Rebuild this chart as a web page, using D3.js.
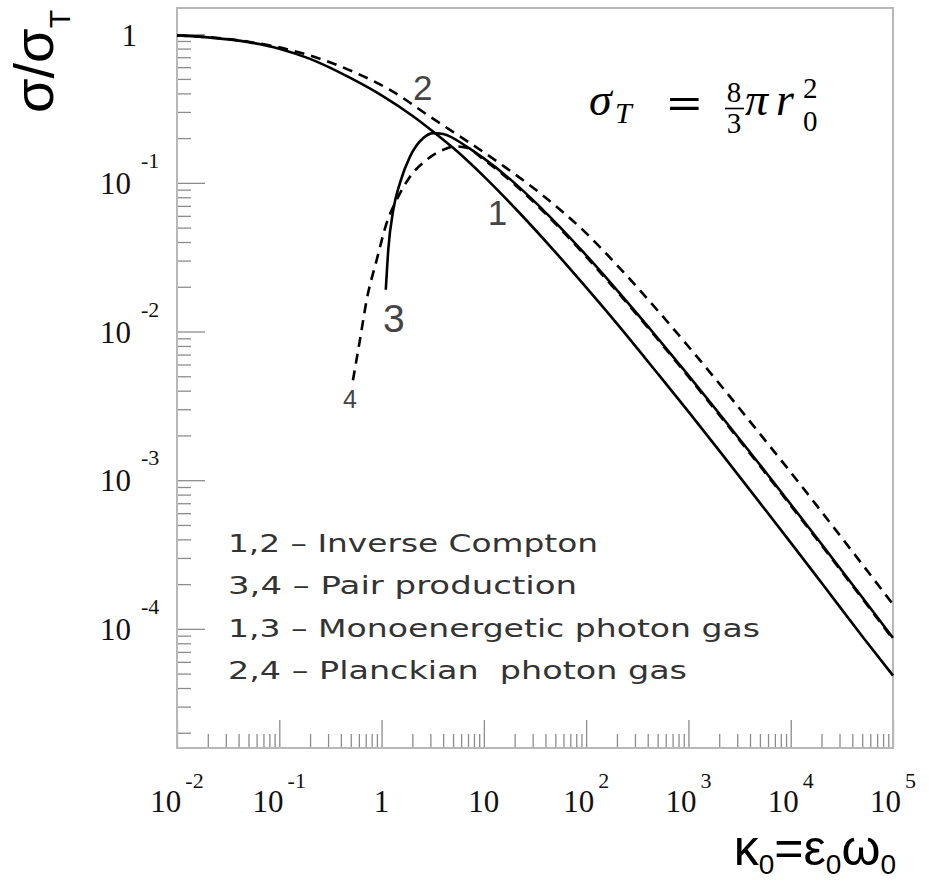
<!DOCTYPE html>
<html><head><meta charset="utf-8">
<script src="https://cdn.jsdelivr.net/npm/d3@7"></script>
<style>html,body{margin:0;padding:0;background:#fff;} svg{display:block;}</style>
</head><body>
<svg id="chart" width="929" height="881"></svg>
<script>
// ---------- data ----------
// curve 1 : inverse Compton, monoenergetic photon gas (solid)
const kappa1 = [0.01, 0.02, 0.05, 0.1, 0.2, 0.5, 1, 2, 3.2, 5, 10, 20, 50, 100, 200, 500, 1000, 2000, 5000, 1e4, 2e4, 5e4, 1e5];
const sigma1 = [0.982, 0.952, 0.884, 0.799, 0.682, 0.506, 0.388, 0.283, 0.221, 0.172, 0.1105, 0.068, 0.0342, 0.0198, 0.0113, 0.00522, 0.00289, 0.00158, 0.000704, 0.00038, 0.000204, 0.0000893, 0.0000485];
// curve 2 : inverse Compton, Planckian photon gas (dashed)
const kappa2 = [0.01, 0.02, 0.05, 0.1, 0.215, 0.525, 1.21, 2.97, 15.5, 35.4, 100, 200, 500, 1000, 2000, 5000, 1e4, 2e4, 5e4, 1e5];
const sigma2 = [0.982, 0.955, 0.89, 0.815, 0.707, 0.56, 0.422, 0.279, 0.13, 0.0853, 0.0459, 0.028, 0.01385, 0.00793, 0.00447, 0.00205, 0.00113, 0.000614, 0.000272, 0.000146];
// curve 3 : pair production, monoenergetic photon gas (solid)
const kappa3 = [1.10, 1.163, 1.302, 1.514, 1.896, 2.557, 3.2, 4.0, 6.79, 10, 20, 44.3, 100, 200, 500, 1000, 2000, 5000, 1e4, 2e4, 5e4, 1e5];
const sigma3 = [0.0191, 0.0355, 0.0658, 0.100, 0.150, 0.200, 0.216, 0.213, 0.1755, 0.146, 0.0996, 0.0591, 0.0326, 0.019, 0.00905, 0.00507, 0.00281, 0.00127, 0.000689, 0.000372, 0.000163, 0.000087];
// curve 4 : pair production, Planckian photon gas (dashed)
const kappa4 = [0.525, 0.615, 0.715, 0.896, 1.122, 1.405, 1.896, 2.76, 4.01, 5.2, 6.79, 10, 20, 44.3, 100, 200, 500, 1000, 2000, 5000, 1e4, 2e4, 5e4, 1e5];
const sigma4 = [0.0047, 0.0088, 0.0163, 0.0303, 0.0538, 0.0769, 0.110, 0.143, 0.167, 0.176, 0.172, 0.143, 0.0976, 0.0579, 0.0319, 0.0186, 0.00887, 0.00497, 0.00275, 0.001245, 0.000675, 0.000365, 0.00016, 0.0000853];

// tick labels
const xTickValues = [0.01, 0.1, 1, 10, 100, 1000, 10000, 100000];
const xTickBase = ["10", "10", "1", "10", "10", "10", "10", "10"];
const xTickExp = ["-2", "-1", "", "", "2", "3", "4", "5"];
const yTickValues = [1, 0.1, 0.01, 0.001, 0.0001];
const yTickBase = ["1", "10", "10", "10", "10"];
const yTickExp = ["", "-1", "-2", "-3", "-4"];

// curve labels and legend
const curveLabels = ["1", "2", "3", "4"];
const curveLabelAt = [[10.9, 0.0522], [2.03, 0.361], [1.03, 0.00995], [0.42, 0.00307]];
const legendLines = ["1,2 \u2013 Inverse Compton", "3,4 \u2013 Pair production", "1,3 \u2013 Monoenergetic photon gas", "2,4 \u2013 Planckian\u00a0 photon gas"];

// ---------- drawing ----------
const svg = d3.select("#chart");
const L = 177, R = 893, T = 8, B = 748;
const x = d3.scaleLog().domain([1e-2, 1e5]).range([L, R]);
const y = d3.scaleLog().domain([1.58e-5, 1.5]).range([B, T]);

const isDecade = v => Math.abs(Math.log10(v) - Math.round(Math.log10(v))) < 1e-6;
const xMinor = x.ticks().filter(v => !isDecade(v));
const yMinor = y.ticks().filter(v => !isDecade(v));
const tickColor = "#8c8c8c";

function styleAxis(g) {
  g.select(".domain").remove();
  g.selectAll(".tick line").attr("stroke", tickColor).attr("stroke-width", 1.3);
  g.selectAll(".tick text").remove();
}
svg.append("g").attr("transform", `translate(${L},0)`)
  .call(d3.axisRight(y).tickValues(yMinor).tickSize(14).tickFormat(() => "")).call(styleAxis);
svg.append("g").attr("transform", `translate(${L},0)`)
  .call(d3.axisRight(y).tickValues(yTickValues).tickSize(28).tickFormat(() => "")).call(styleAxis);
svg.append("g").attr("transform", `translate(0,${B})`)
  .call(d3.axisTop(x).tickValues(xMinor).tickSize(14).tickFormat(() => "")).call(styleAxis);
svg.append("g").attr("transform", `translate(0,${B})`)
  .call(d3.axisTop(x).tickValues(xTickValues).tickSize(28).tickFormat(() => "")).call(styleAxis);

svg.append("rect").attr("x", L).attr("y", T).attr("width", R - L).attr("height", B - T)
  .attr("fill", "none").attr("stroke", "#b8b8b8").attr("stroke-width", 2);

// curves
const line = d3.line().x(d => x(d[0])).y(d => y(d[1])).curve(d3.curveMonotoneX);
const curves = [
  {k: kappa1, s: sigma1, dash: null},
  {k: kappa2, s: sigma2, dash: "10,7"},
  {k: kappa3, s: sigma3, dash: null},
  {k: kappa4, s: sigma4, dash: "10,7"}
];
curves.forEach(c => {
  svg.append("path").datum(c.k.map((k, i) => [k, c.s[i]]))
    .attr("d", line).attr("fill", "none").attr("stroke", "#000")
    .attr("stroke-width", 2.6).attr("stroke-dasharray", c.dash);
});

// tick labels
const serif = "'Liberation Serif', 'Times New Roman', serif";
xTickValues.forEach((v, i) => {
  const t = svg.append("text").attr("x", x(v)).attr("y", 812).attr("text-anchor", "middle")
    .attr("font-family", serif).attr("font-size", 31).attr("fill", "#111").text(xTickBase[i]);
  if (xTickExp[i]) t.append("tspan").attr("dx", 4).attr("dy", -24).attr("font-size", 22).text(xTickExp[i]);
});
yTickValues.forEach((v, i) => {
  if (!yTickExp[i]) {
    svg.append("text").attr("x", 137).attr("y", y(v) + 12).attr("text-anchor", "end")
      .attr("font-family", serif).attr("font-size", 31).attr("fill", "#111").text(yTickBase[i]);
  } else {
    svg.append("text").attr("x", 131).attr("y", y(v) + 11).attr("text-anchor", "end")
      .attr("font-family", serif).attr("font-size", 31).attr("fill", "#111").text(yTickBase[i]);
    svg.append("text").attr("x", 141).attr("y", y(v) - 15).attr("text-anchor", "start")
      .attr("font-family", serif).attr("font-size", 22).attr("fill", "#111").text(yTickExp[i]);
  }
});

// axis titles
const sans = "'Liberation Sans', Arial, sans-serif";
const yt = svg.append("text").attr("transform", "translate(53,113) rotate(-90)")
  .attr("font-family", sans).attr("font-size", 56).attr("fill", "#000").text("\u03c3/\u03c3");
yt.append("tspan").attr("dy", 17).attr("font-size", 30).text("T");

const xt = svg.append("text").attr("x", 896).attr("y", 865).attr("text-anchor", "end")
  .attr("font-family", sans).attr("font-size", 50).attr("fill", "#000");
xt.append("tspan").text("\u03ba");
xt.append("tspan").attr("dy", 9).attr("font-size", 28).text("0");
xt.append("tspan").attr("dy", -9).text("=\u03b5");
xt.append("tspan").attr("dy", 9).attr("font-size", 28).text("0");
xt.append("tspan").attr("dy", -9).text("\u03c9");
xt.append("tspan").attr("dy", 9).attr("font-size", 28).text("0");

// curve number labels
const labelSizes = [35, 35, 39, 25];
curveLabels.forEach((lab, i) => {
  svg.append("text").attr("x", x(curveLabelAt[i][0])).attr("y", y(curveLabelAt[i][1]))
    .attr("font-family", sans).attr("font-size", labelSizes[i]).attr("fill", "#444").text(lab);
});

// legend
const legendWidths = [370, 349, 532, 459];
const legendBase = [552, 594, 637, 679];
legendLines.forEach((s, i) => {
  svg.append("text").attr("x", 228).attr("y", legendBase[i])
    .attr("font-family", "'DejaVu Sans', sans-serif").attr("font-size", 24).attr("fill", "#333")
    .attr("textLength", legendWidths[i]).attr("lengthAdjust", "spacingAndGlyphs").text(s);
});

// formula  sigma_T = 8/3 pi r_0^2
const f = svg.append("g").attr("font-family", serif).attr("fill", "#000");
f.append("text").attr("x", 589).attr("y", 115).attr("font-size", 46).attr("font-style", "italic").text("\u03c3");
f.append("text").attr("x", 615).attr("y", 123).attr("font-size", 30).attr("font-style", "italic").text("T");
f.append("text").attr("x", 667).attr("y", 118).attr("font-size", 44).attr("font-weight", "bold")
  .attr("textLength", 35).attr("lengthAdjust", "spacingAndGlyphs").text("=");
f.append("text").attr("x", 734).attr("y", 102).attr("font-size", 29).attr("text-anchor", "middle").text("8");
f.append("line").attr("x1", 725).attr("x2", 744).attr("y1", 108.5).attr("y2", 108.5).attr("stroke", "#000").attr("stroke-width", 1.6);
f.append("text").attr("x", 734).attr("y", 133).attr("font-size", 29).attr("text-anchor", "middle").text("3");
f.append("text").attr("x", 745).attr("y", 115).attr("font-size", 46).attr("font-style", "italic").text("\u03c0");
f.append("text").attr("x", 776).attr("y", 115).attr("font-size", 46).attr("font-style", "italic").text("r");
f.append("text").attr("x", 803).attr("y", 98).attr("font-size", 29).text("2");
f.append("text").attr("x", 803).attr("y", 131).attr("font-size", 29).text("0");
</script>
</body></html>
